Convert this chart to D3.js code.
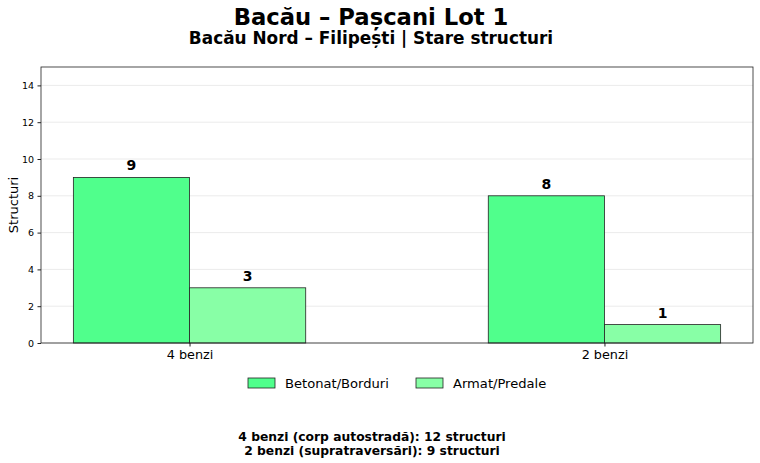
<!DOCTYPE html>
<html><head><meta charset="utf-8">
<script src="https://cdn.jsdelivr.net/npm/d3@7"></script>
<style>body{margin:0;background:#fff;font-family:"DejaVu Sans",sans-serif;}</style>
</head><body>
<svg id="c" width="760" height="463"></svg>
<script>
const categories = ["4 benzi", "2 benzi"];
const seriesNames = ["Betonat/Borduri", "Armat/Predale"];
const betonat = [9, 8];
const armat = [3, 1];
const yTicks = [0, 2, 4, 6, 8, 10, 12, 14];
const colors = ["#50ff8c", "#88ffa6"];
const title = "Bacău – Pașcani Lot 1";
const subtitle = "Bacău Nord – Filipești | Stare structuri";
const notes = ["4 benzi (corp autostradă): 12 structuri", "2 benzi (supratraversări): 9 structuri"];

const svg = d3.select("#c");
const L = 41, R = 753, T = 67, B = 343;
const bw = 0.28;
const x = d3.scaleLinear().domain([-bw - 0.078, 1 + bw + 0.078]).range([L, R]);
const y = d3.scaleLinear().domain([0, 15]).range([B, T]);

// grid
svg.append("g").selectAll("line").data(yTicks).join("line")
  .attr("x1", L).attr("x2", R).attr("y1", d => y(d)).attr("y2", d => y(d))
  .attr("stroke", "#e6e6e6").attr("stroke-width", 0.8);

const series = [betonat, armat];
series.forEach((vals, si) => {
  svg.append("g").selectAll("rect").data(vals).join("rect")
    .attr("x", (d, i) => x(i + (si === 0 ? -bw : 0)))
    .attr("width", x(bw) - x(0))
    .attr("y", d => y(d)).attr("height", d => y(0) - y(d))
    .attr("fill", colors[si]).attr("stroke", "#222").attr("stroke-width", 0.8);
  svg.append("g").selectAll("text").data(vals).join("text")
    .attr("x", (d, i) => x(i + (si === 0 ? -bw / 2 : bw / 2)))
    .attr("y", d => y(d) - 7)
    .attr("text-anchor", "middle").attr("font-weight", "bold").attr("font-size", 14)
    .attr("fill", "#000").text(d => d);
});

// frame
svg.append("rect").attr("x", L).attr("y", T).attr("width", R - L).attr("height", B - T)
  .attr("fill", "none").attr("stroke", "#222").attr("stroke-width", 0.8);

// y axis
const ya = svg.append("g").attr("transform", `translate(${L},0)`)
  .call(d3.axisLeft(y).tickValues(yTicks).tickSize(3.5).tickPadding(3.5));
ya.select(".domain").remove();
ya.selectAll("text").attr("font-size", 9.5).attr("font-family", "DejaVu Sans").attr("fill", "#000");
ya.selectAll("line").attr("stroke", "#222");

// x axis
const xa = svg.append("g").attr("transform", `translate(0,${B})`)
  .call(d3.axisBottom(x).tickValues([0, 1]).tickFormat((d) => categories[d]).tickSize(3.5).tickPadding(3.5));
xa.select(".domain").remove();
xa.selectAll("text").attr("font-size", 12.8).attr("font-family", "DejaVu Sans").attr("fill", "#000");
xa.selectAll("line").attr("stroke", "#222");

svg.append("text").attr("transform", `translate(18,${(T + B) / 2}) rotate(-90)`)
  .attr("text-anchor", "middle").attr("font-size", 13).text("Structuri");

svg.append("text").attr("x", 371).attr("y", 25).attr("text-anchor", "middle")
  .attr("font-weight", "bold").attr("font-size", 22.7).text(title);
svg.append("text").attr("x", 371).attr("y", 44).attr("text-anchor", "middle")
  .attr("font-weight", "bold").attr("font-size", 16.9).text(subtitle);

// legend
const lx = [248, 416];
seriesNames.forEach((n, i) => {
  svg.append("rect").attr("x", lx[i]).attr("y", 378).attr("width", 27).attr("height", 10)
    .attr("fill", colors[i]).attr("stroke", "#222").attr("stroke-width", 0.8);
  svg.append("text").attr("x", lx[i] + 37).attr("y", 388).attr("font-size", 13.1).text(n);
});

notes.forEach((t, i) => {
  svg.append("text").attr("x", 372).attr("y", 441 + i * 13.5).attr("text-anchor", "middle")
    .attr("font-weight", "bold").attr("font-size", 12.3).text(t);
});
</script>
</body></html>
